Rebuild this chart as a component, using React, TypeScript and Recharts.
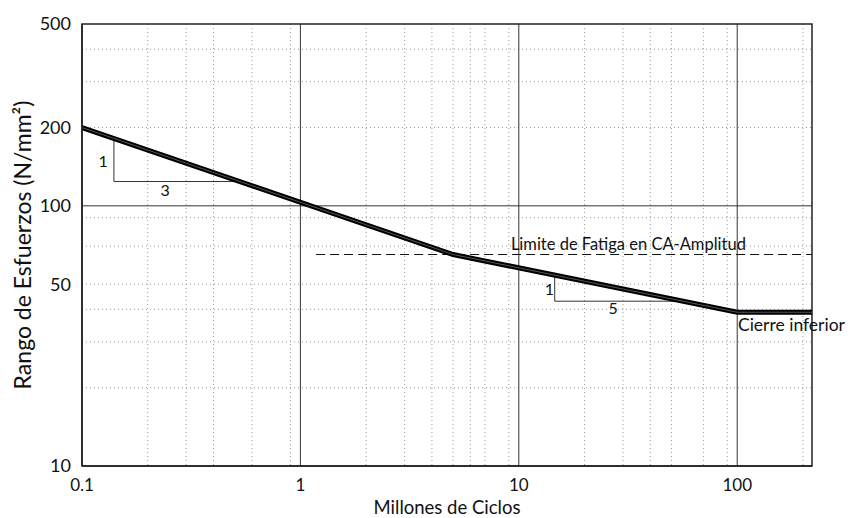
import React from 'react';
import {
  ComposedChart, Line, XAxis, YAxis, CartesianGrid, ReferenceArea, ReferenceDot, Label,
} from 'recharts';

const FONT = 'Lato, "Open Sans", sans-serif';
const C = { TEXT: '#111', GRID_MAJOR: '#333', GRID_MINOR: '#9a9a9a', CURVE: '#000', CORE: '#555' };

// axes
const X_DOMAIN = [0.1, 220];
const Y_DOMAIN = [10, 500];
const xTicks = [0.1, 1, 10, 100];
const yTicks = [10, 50, 100, 200, 500];
const xMajor = [1, 10, 100];
const xMinor = [0.2, 0.3, 0.4, 0.5, 0.6, 0.7, 0.8, 0.9, 2, 3, 4, 5, 6, 7, 8, 9, 20, 30, 40, 50, 60, 70, 80, 90, 200];
const yMajor = [100];
const yMinor = [20, 30, 40, 50, 60, 70, 80, 90, 200, 300, 400];

// S-N curve (millions of cycles vs stress range)
const curveN = [0.1, 5, 100, 220];
const curveS = [200, 65, 39, 39];

// constant amplitude fatigue limit (dashed)
const limitN = [1.18, 220];
const limitS = [65, 65];

// slope triangles
const slope1N = [0.14, 0.14, 0.53];
const slope1S = [181, 124, 124];
const slope2N = [14.6, 14.6, 60];
const slope2S = [54, 43, 43];

// text annotations
const notes = [
  { n: 0.125, s: 150, text: '1', anchor: 'middle', size: 16 },
  { n: 0.24, s: 116, text: '3', anchor: 'middle', size: 16 },
  { n: 13.8, s: 48, text: '1', anchor: 'middle', size: 16 },
  { n: 27, s: 40.5, text: '5', anchor: 'middle', size: 16 },
  { n: 9.2, s: 71.5, text: 'Limite de Fatiga en CA-Amplitud', anchor: 'start', size: 16.5 },
  { n: 100.8, s: 35, text: 'Cierre inferior', anchor: 'start', size: 17.5 },
];

const zip = (ns: number[], ss: number[]) => ns.map((n, i) => ({ n, s: ss[i] }));

const curveData = zip(curveN, curveS);
const limitData = zip(limitN, limitS);
const slope1Data = zip(slope1N, slope1S);
const slope2Data = zip(slope2N, slope2S);

const fmt = (v: number) => String(v);

const YTitle = (props: any) => {
  const vb = props.viewBox || {};
  const cx = vb.x + 0;
  const cy = vb.y + vb.height / 2;
  return (
    <text x={cx} y={cy} transform={`rotate(-90 ${cx} ${cy})`} textAnchor="middle" dominantBaseline="central"
      fontFamily={FONT} fontSize={23} fill={C.TEXT}>
      Rango de Esfuerzos (N/mm²)
    </text>
  );
};

const XTitle = (props: any) => {
  const vb = props.viewBox || {};
  const cx = vb.x + vb.width / 2;
  const cy = vb.y + vb.height + 11;
  return (
    <text x={cx} y={cy} textAnchor="middle" dominantBaseline="central" fontFamily={FONT} fontSize={18.5} fill={C.TEXT}>
      Millones de Ciclos
    </text>
  );
};

const NoteText = (text: string, anchor: string, size: number) => (props: any) => {
  const vb = props.viewBox || {};
  return (
    <text x={vb.x} y={vb.y} textAnchor={anchor} dominantBaseline="central" fontFamily={FONT} fontSize={size} fill={C.TEXT}>
      {text}
    </text>
  );
};

export default function App() {
  return (
    <div style={{ position: 'absolute', left: 0, top: 0, background: '#fff' }}>
      <ComposedChart width={849} height={518} margin={{ top: 24, right: 37, bottom: 22, left: 22 }}>
        <CartesianGrid stroke={C.GRID_MINOR} strokeDasharray="1 3" horizontalValues={yMinor} verticalValues={xMinor} />
        <CartesianGrid stroke={C.GRID_MAJOR} strokeWidth={1} horizontalValues={yMajor} verticalValues={xMajor} />
        <XAxis dataKey="n" type="number" scale="log" domain={X_DOMAIN} ticks={xTicks} tickFormatter={fmt}
          allowDataOverflow height={30} tickLine={false} axisLine={{ stroke: '#222', strokeWidth: 1.5 }}
          tick={{ fill: C.TEXT, fontSize: 17, fontFamily: FONT }} tickMargin={7}>
          <Label content={<XTitle />} />
        </XAxis>
        <YAxis type="number" scale="log" domain={Y_DOMAIN} ticks={yTicks} tickFormatter={fmt}
          allowDataOverflow width={60} tickLine={false} axisLine={{ stroke: '#222', strokeWidth: 1.5 }}
          tick={{ fill: C.TEXT, fontSize: 18, fontFamily: FONT }} tickMargin={5}>
          <Label content={<YTitle />} />
        </YAxis>
        <ReferenceArea x1={X_DOMAIN[0]} x2={X_DOMAIN[1]} y1={Y_DOMAIN[0]} y2={Y_DOMAIN[1]} fill="none"
          stroke="#222" strokeWidth={1.5} />
        <Line data={limitData} dataKey="s" stroke="#111" strokeWidth={1.2} strokeDasharray="9 5" dot={false}
          isAnimationActive={false} />
        <Line data={slope1Data} dataKey="s" stroke="#333" strokeWidth={1} dot={false} isAnimationActive={false} />
        <Line data={slope2Data} dataKey="s" stroke="#333" strokeWidth={1} dot={false} isAnimationActive={false} />
        <Line data={curveData} dataKey="s" stroke={C.CURVE} strokeWidth={5} dot={false} isAnimationActive={false} />
        <Line data={curveData} dataKey="s" stroke={C.CORE} strokeWidth={1} dot={false} isAnimationActive={false} />
        {notes.map((t, i) => (
          <ReferenceDot key={i} x={t.n} y={t.s} r={0} stroke="none" fill="none">
            <Label content={NoteText(t.text, t.anchor, t.size)} />
          </ReferenceDot>
        ))}
      </ComposedChart>
    </div>
  );
}
